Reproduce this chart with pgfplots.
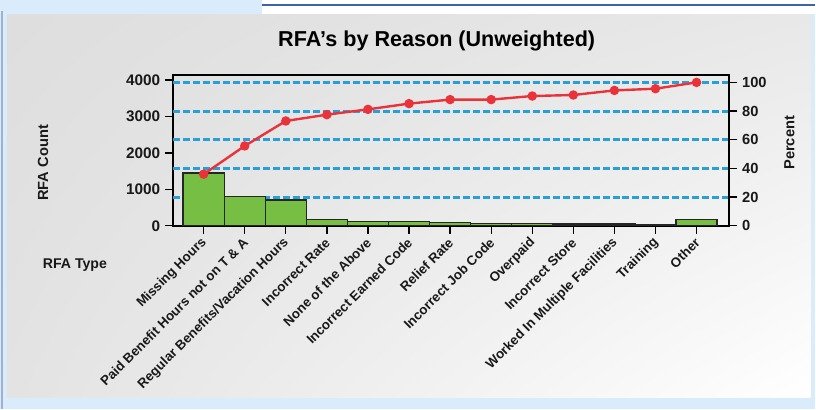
\documentclass[border=0pt]{standalone}
\usepackage{fontspec}
\setmainfont{Liberation Sans}
\usepackage{pgfplots}
\pgfplotsset{compat=1.18}
\usetikzlibrary{shadings}
\definecolor{barg}{RGB}{118,190,68}
\definecolor{linered}{RGB}{234,50,58}
\definecolor{gridc}{RGB}{40,160,215}
\definecolor{outerblue}{RGB}{218,236,252}
\definecolor{frameblue}{RGB}{60,100,170}
\definecolor{txt}{RGB}{25,25,25}
\begin{document}
\begin{tikzpicture}[x=0.75pt,y=0.75pt]
\fill[outerblue] (0,0) rectangle (816,409);
\fill[white] (262,395) rectangle (816,409);
\draw[frameblue, line width=1pt] (262,404) -- (816,404);
\draw[frameblue!50, line width=0.8pt] (2,0) -- (2,398);
\shade[upper left=black!13, upper right=black!9, lower left=black!11, lower right=white] (7,11) rectangle (811,394);

\begin{axis}[
  at={(129.75pt,137.25pt)}, anchor=south west, scale only axis,
  width=417.75pt, height=113.25pt,
  xmin=-0.75, xmax=12.8, ymin=0, ymax=4137,
  axis line style={line width=1.4pt, black},
  tick style={line width=1pt, black},
  major tick length=6pt,
  tick align=outside,
  xtick pos=bottom, ytick pos=left,
  xtick={0,...,12},
  xticklabels={Missing Hours, Paid Benefit Hours not on T \& A, Regular Benefits/Vacation Hours, Incorrect Rate, None of the Above, Incorrect Earned Code, Relief Rate, Incorrect Job Code, Overpaid, Incorrect Store, Worked In Multiple Facilities, Training, Other},
  xticklabel style={rotate=45, anchor=east, font=\bfseries\fontsize{10}{11}\selectfont, text=txt, inner sep=1pt, xshift=-2pt, yshift=-4pt},
  ytick={0,1000,2000,3000,4000},
  /pgf/number format/1000 sep={},
  /pgf/number format/assume math mode=true,
  yticklabel style={font=\bfseries\fontsize{11.5}{12}\selectfont, text=txt},
  extra y ticks={786.5,1573,2359.4,3146,3932},
  extra y tick labels={},
  extra y tick style={ymajorgrids=true, major tick length=0pt, major grid style={gridc, line width=2.2pt, dash pattern=on 5.25pt off 2.25pt}},
  title={RFA’s by Reason (Unweighted)},
  title style={at={(axis description cs:0.474,1.172)}, anchor=center, font=\bfseries\fontsize{16.2}{18}\selectfont, text=black},
  ylabel={RFA Count},
  ylabel style={at={(axis description cs:-0.2334,0.417)}, anchor=center, font=\bfseries\fontsize{11}{12}\selectfont, text=txt},
  xlabel={RFA Type},
  xlabel style={at={(axis description cs:-0.176,-0.258)}, anchor=center, font=\bfseries\fontsize{10.6}{12}\selectfont, text=txt},
]
\addplot[ybar, bar width=1, fill=barg, draw=black!85, line width=1pt] coordinates {
 (0,1444) (1,795) (2,704) (3,175) (4,115) (5,110) (6,100) (7,65) (8,60) (9,50) (10,50) (11,45) (12,165)};
\end{axis}

\begin{axis}[
  at={(129.75pt,137.25pt)}, anchor=south west, scale only axis,
  width=417.75pt, height=113.25pt,
  xmin=-0.75, xmax=12.8, ymin=0, ymax=105.2,
  axis x line=none, axis y line*=right,
  axis line style={line width=1.4pt, black, -},
  tick style={line width=1pt, black},
  major tick length=6pt,
  tick align=outside,
  ytick={0,20,40,60,80,100},
  /pgf/number format/assume math mode=true,
  yticklabel style={font=\bfseries\fontsize{11}{12}\selectfont, text=txt},
  ylabel={Percent},
  ylabel style={at={(axis description cs:1.1077,0.55)}, anchor=center, rotate=0, font=\bfseries\fontsize{11}{12}\selectfont, text=txt},
]
\addplot[linered, line width=1.8pt, mark=*, mark size=2.6pt, mark options={fill=linered, draw=linered}] coordinates {
 (0,36.0) (1,55.7) (2,73.1) (3,77.5) (4,81.2) (5,85.2) (6,88.0) (7,88.0) (8,90.5) (9,91.2) (10,94.4) (11,95.6) (12,100)};
\end{axis}
\end{tikzpicture}
\end{document}
